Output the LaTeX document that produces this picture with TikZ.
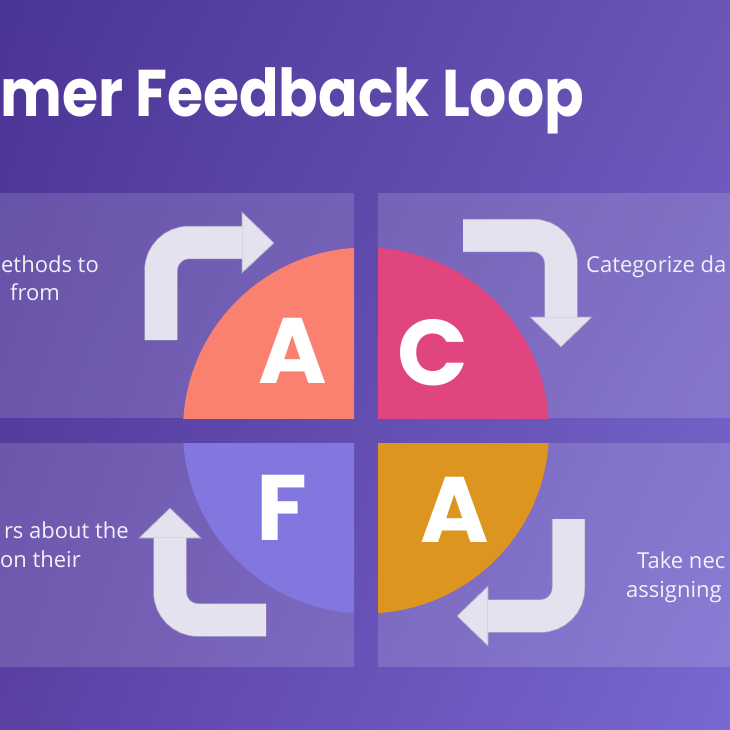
\documentclass[tikz,border=0pt]{standalone}
\usepackage{fontspec}
\usetikzlibrary{shadings}
\setmainfont{Open Sans}
\newfontfamily\pop{Poppins}
\definecolor{bgUL}{HTML}{4A3495}
\definecolor{bgUR}{HTML}{6A56B6}
\definecolor{bgLL}{HTML}{5C40A4}
\definecolor{bgLR}{HTML}{7868D0}
\definecolor{salmon}{HTML}{FA8070}
\definecolor{pinkc}{HTML}{E0457F}
\definecolor{purplef}{HTML}{8277DE}
\definecolor{orangea}{HTML}{DC951E}
\definecolor{arrowfill}{HTML}{E4E2EF}
\definecolor{arrowline}{HTML}{ABA4C6}
\definecolor{txt}{HTML}{F2F0FA}
\tikzset{
  panel/.style={fill=white, fill opacity=0.14},
  bodytext/.style={text=txt, font=\fontsize{22}{28}\selectfont, inner sep=0pt},
  bigletter/.style={text=white, font=\pop\bfseries\fontsize{93}{93}\selectfont, inner sep=0pt, anchor=base},
  bandout/.style={draw=arrowline, line width=33.4pt, rounded corners=28pt},
  bandin/.style={draw=arrowfill, line width=32pt, rounded corners=28pt},
  headtri/.style={fill=arrowfill, draw=arrowline, line width=0.7pt, line join=miter},
}
\begin{document}
\begin{tikzpicture}[x=1pt,y=-1pt]
\useasboundingbox (0,0) rectangle (730,730);
% background
\shade[upper left=bgUL, upper right=bgUR, lower left=bgLL, lower right=bgLR] (0,0) rectangle (730,730);
% panels
\fill[panel] (-10,193) rectangle (354,418);
\fill[panel] (378,193) rectangle (740,418);
\fill[panel] (-10,443) rectangle (354,667);
\fill[panel] (378,443) rectangle (740,667);
% circle quarters
\coordinate (cc) at (366,430.5);
\begin{scope}
  \clip (-10,193) rectangle (354,418);
  \fill[salmon] (cc) circle[radius=183];
\end{scope}
\begin{scope}
  \clip (378,193) rectangle (740,418);
  \fill[pinkc] (cc) circle[radius=183];
\end{scope}
\begin{scope}
  \clip (-10,443) rectangle (354,667);
  \fill[purplef] (cc) circle[radius=183];
\end{scope}
\begin{scope}
  \clip (378,443) rectangle (740,667);
  \fill[orangea] (cc) circle[radius=183];
\end{scope}
% letters
\node[bigletter] (la) at (293,383) {A};
\node[bigletter] (lc) at (433,385) {C};
\node[bigletter] (lf) at (282,540) {F};
\node[bigletter] (lb) at (455,542) {A};
% arrow top-left
\coordinate (a1s) at (161,340);
\coordinate (a1c) at (161,242.5);
\coordinate (a1e) at (242,242.5);
\draw[bandout] (a1s) -- (a1c) -- (a1e);
\draw[headtri] (242,212) -- (274,243) -- (242,273) -- cycle;
\draw[bandin] (a1s) -- (a1c) -- ([xshift=0.4pt]a1e);
% arrow top-right
\coordinate (a2s) at (463,235.5);
\coordinate (a2c) at (561,235.5);
\coordinate (a2e) at (561,317);
\draw[bandout] (a2s) -- (a2c) -- (a2e);
\draw[headtri] (530,317) -- (561,347) -- (592,317) -- cycle;
\draw[bandin] (a2s) -- (a2c) -- ([yshift=-0.4pt]a2e);
% arrow bottom-left
\coordinate (a3s) at (266,620);
\coordinate (a3c) at (170,620);
\coordinate (a3e) at (170,538);
\draw[bandout] (a3s) -- (a3c) -- (a3e);
\draw[headtri] (139,538) -- (170,508) -- (201,538) -- cycle;
\draw[bandin] (a3s) -- (a3c) -- ([yshift=0.4pt]a3e);
% arrow bottom-right
\coordinate (a4s) at (568.5,519);
\coordinate (a4c) at (568.5,616);
\coordinate (a4e) at (488,616);
\draw[bandout] (a4s) -- (a4c) -- (a4e);
\draw[headtri] (488,586) -- (457,616) -- (488,646) -- cycle;
\draw[bandin] (a4s) -- (a4c) -- ([xshift=-0.4pt]a4e);
% title
\node[text=white, font=\pop\bfseries\fontsize{66}{66}\selectfont, inner sep=0pt, anchor=base west] (title) at (0,117) {\scalebox{0.885}[1]{mer Feedback Loop}};
% texts
\node[bodytext, anchor=base east] (t1a) at (99,272) {ethods to};
\node[bodytext, anchor=base east] (t1b) at (60,300) {from};
\node[bodytext, anchor=base west] (t2a) at (586,272) {Categorize da};
\node[bodytext, anchor=base east] (t3a) at (129,538) {rs about the};
\node[bodytext, anchor=base east] (t3b) at (81,567) {on their};
\node[bodytext, anchor=base west] (t4a) at (637,568) {Take nec};
\node[bodytext, anchor=base west] (t4b) at (626,597) {assigning};
\end{tikzpicture}
\end{document}
